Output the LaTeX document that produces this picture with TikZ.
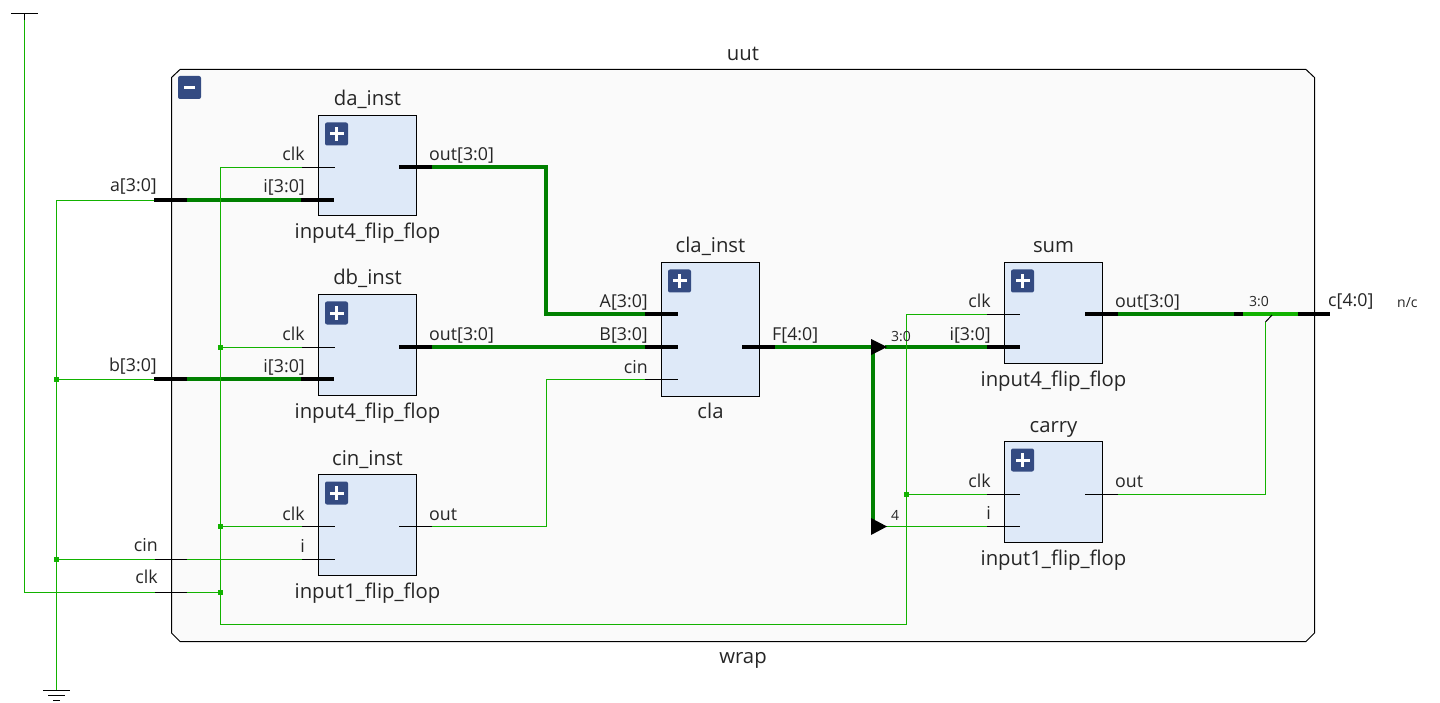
\documentclass[tikz,border=0pt]{standalone}
\usepackage{fontspec}
\setmainfont{Open Sans}
\definecolor{thin}{HTML}{12B200}
\definecolor{bus}{HTML}{008000}
\definecolor{btn}{HTML}{344B82}
\definecolor{inner}{HTML}{DEE9F8}
\definecolor{outerf}{HTML}{FAFAFA}
\tikzset{
  x=1pt,y=-1pt,
  inst/.style={draw=black,fill=inner,line width=1pt,minimum width=98pt,inner sep=0pt,outer sep=0pt,anchor=north west},
  lab/.style={font=\fontsize{17.8}{18}\selectfont,inner sep=0pt,text=black!85},
  big/.style={font=\fontsize{20.3}{20}\selectfont,inner sep=0pt,text=black!85,anchor=base},
  lw/.style={lab,anchor=base west},
  le/.style={lab,anchor=base east},
  small/.style={font=\fontsize{14}{14}\selectfont,inner sep=0pt,anchor=base,text=black!85},
  wire/.style={draw=thin,line width=1pt},
  buswire/.style={draw=bus,line width=4pt},
  brightbus/.style={draw=thin,line width=4pt},
  stub/.style={draw=black,line width=1pt},
  thickstub/.style={draw=black,line width=4pt},
  btnbox/.style={fill=btn,rounded corners=2pt,minimum size=23pt,inner sep=0pt},
  dotj/.style={fill=thin,minimum size=5.5pt,inner sep=0pt},
  tri/.style={fill=black,draw=none},
  sym/.style={draw=black,line width=1pt}
}
\newcommand{\pbtn}[3]{%
  \node[btnbox] (#1) at (#2,#3) {};
  \fill[white] (#2-7,#3-1.5) rectangle (#2+7,#3+1.5);
  \fill[white] (#2-1.5,#3-7) rectangle (#2+1.5,#3+7);}
\begin{document}
\begin{tikzpicture}
\useasboundingbox (0,0) rectangle (1440,703);
\fill[white] (0,0) rectangle (1440,703);
% outer block
\draw[black,fill=outerf,line width=1pt] (180,69.5) -- (1306,69.5) -- (1314.5,77.5) -- (1314.5,633) -- (1306,641.5) -- (180,641.5) -- (171.5,633) -- (171.5,77.5) -- cycle;
\node[big] (uut) at (743,61) {uut};
\node[big] (wrap) at (743,663) {wrap};
\node[btnbox] (collapse) at (189.5,87.5) {};
\fill[white] (184,86) rectangle (195,89);
% instances
\node[inst,minimum height=100.5pt] (da) at (318.5,115.5) {};
\node[inst,minimum height=100.5pt] (db) at (318.5,294.5) {};
\node[inst,minimum height=100.5pt] (cini) at (318.5,474.5) {};
\node[inst,minimum height=134pt] (cla) at (661.5,262.5) {};
\node[inst,minimum height=100.5pt] (sum) at (1004.5,262.5) {};
\node[inst,minimum height=100.5pt] (carry) at (1004.5,441.5) {};
\pbtn{bda}{336.5}{134}
\pbtn{bdb}{336.5}{313}
\pbtn{bcin}{336.5}{493}
\pbtn{bcla}{679.5}{281}
\pbtn{bsum}{1022.5}{281}
\pbtn{bcarry}{1022.5}{460}
% coordinates
\coordinate (vcc) at (24.5,20);
\coordinate (vcctop) at (24.5,13.5);
\coordinate (gnd) at (56.5,689.5);
\coordinate (clkbot) at (220.5,624.5);
\coordinate (clkR) at (906.5,624.5);
\coordinate (tapT) at (1265.5,322);
\coordinate (tapE) at (1272,315);
% dots
\coordinate (jA) at (56.5,379.5);
\coordinate (jB) at (56.5,559.5);
\coordinate (j1) at (220.5,347.5);
\coordinate (j2) at (220.5,526.5);
\coordinate (j3) at (220.5,592.5);
\coordinate (j4) at (906.5,494.5);
% buses
\draw[buswire] (187,200) -- (301,200);
\draw[buswire] (187,379) -- (301,379);
\draw[buswire] (432,167) -- (546,167) -- (546,314) -- (645,314);
\draw[buswire] (432,347) -- (645,347);
\draw[buswire] (775,347) -- (873,347);
\draw[buswire] (872.5,347) -- (872.5,526);
\draw[buswire] (885,347) -- (987,347);
\draw[buswire] (1118,314) -- (1234,314);
\draw[brightbus] (1243,314) -- (1298,314);
% thin wires
\draw[wire] (vcc) -- (24.5,592.5) -- (155,592.5);
\draw[wire] (187,592.5) -- (j3);
\draw[wire] (154,200.5) -- (56.5,200.5) -- (gnd);
\draw[wire] (jA) -- (155,379.5);
\draw[wire] (jB) -- (155,559.5);
\draw[wire] (187,559.5) -- (302,559.5);
\draw[wire] (302,167.5) -- (220.5,167.5) -- (clkbot) -- (clkR) -- (906.5,314.5) -- (987,314.5);
\draw[wire] (j1) -- (302,347.5);
\draw[wire] (j2) -- (302,526.5);
\draw[wire] (j4) -- (987,494.5);
\draw[wire] (432,526.5) -- (546.5,526.5) -- (546.5,379.5) -- (645,379.5);
\draw[wire] (885,526.5) -- (987,526.5);
\draw[wire] (1118,494.5) -- (1265.5,494.5) -- (tapT);
\draw[black,line width=1pt] (tapT) -- (tapE);
% stubs
\foreach \y in {200,379} {\draw[thickstub] (154,\y) -- (187,\y);}
\foreach \y in {559.5,592.5} {\draw[stub] (155,\y) -- (187,\y);}
\foreach \y in {200,379} {\draw[thickstub] (301,\y) -- (334,\y);}
\foreach \y in {167.5,347.5,526.5,559.5} {\draw[stub] (302,\y) -- (335,\y);}
\foreach \y in {167,347} {\draw[thickstub] (399,\y) -- (432,\y);}
\draw[stub] (399,526.5) -- (432,526.5);
\foreach \y in {314,347} {\draw[thickstub] (645,\y) -- (678,\y);}
\draw[stub] (645,379.5) -- (678,379.5);
\draw[thickstub] (742,347) -- (775,347);
\draw[stub] (987,314.5) -- (1020,314.5);
\draw[thickstub] (987,347) -- (1020,347);
\draw[stub] (987,494.5) -- (1020,494.5);
\draw[stub] (987,526.5) -- (1020,526.5);
\draw[thickstub] (1085,314) -- (1118,314);
\draw[stub] (1085,494.5) -- (1118,494.5);
\draw[thickstub] (1234,314) -- (1243,314);
\draw[thickstub] (1298,314) -- (1330,314);
% rippers
\fill[tri] (871,339) -- (887,347) -- (871,355) -- cycle;
\fill[tri] (871,518) -- (887,526.5) -- (871,535) -- cycle;
% junctions
\foreach \n in {jA,jB,j1,j2,j3,j4} {\node[dotj] at (\n) {};}
% power, ground
\draw[sym] (11,13.5) -- (38,13.5);
\draw[sym] (vcctop) -- (vcc);
\draw[sym] (43,690.5) -- (70,690.5);
\draw[sym] (48,695.5) -- (65,695.5);
\draw[sym] (53,700.5) -- (60,700.5);
% labels
\node[le] at (157,192) {a[3:0]};
\node[le] at (157,371) {b[3:0]};
\node[le] at (158,551) {cin};
\node[le] at (158,583) {clk};
\node[big] at (367.5,106) {da\_inst};
\node[big] at (367.5,285) {db\_inst};
\node[big] at (367.5,465) {cin\_inst};
\node[big] at (710.5,253) {cla\_inst};
\node[big] at (1053.5,253) {sum};
\node[big] at (1053.5,432) {carry};
\node[big] at (367.5,239) {input4\_flip\_flop};
\node[big] at (367.5,418) {input4\_flip\_flop};
\node[big] at (367.5,598) {input1\_flip\_flop};
\node[big] at (710.5,418) {cla};
\node[big] at (1053.5,386) {input4\_flip\_flop};
\node[big] at (1053.5,565) {input1\_flip\_flop};
\node[le] at (305,161) {clk};
\node[le] at (305,193) {i[3:0]};
\node[le] at (305,340) {clk};
\node[le] at (305,372) {i[3:0]};
\node[le] at (305,520) {clk};
\node[le] at (305,552) {i};
\node[lw] at (429,161) {out[3:0]};
\node[lw] at (429,340) {out[3:0]};
\node[lw] at (429,520) {out};
\node[le] at (648,308) {A[3:0]};
\node[le] at (648,340) {B[3:0]};
\node[le] at (648,373) {cin};
\node[lw] at (772,340) {F[4:0]};
\node[le] at (991,308) {clk};
\node[le] at (991,340) {i[3:0]};
\node[le] at (991,487) {clk};
\node[le] at (991,519) {i};
\node[lw] at (1115,308) {out[3:0]};
\node[lw] at (1115,487) {out};
\node[lw] at (1328,306) {c[4:0]};
\node[small,anchor=base west] at (1397,308) {n/c};
\node[small] at (1259,307) {3:0};
\node[small] at (901,341) {3:0};
\node[small] at (895,520) {4};
\end{tikzpicture}
\end{document}
